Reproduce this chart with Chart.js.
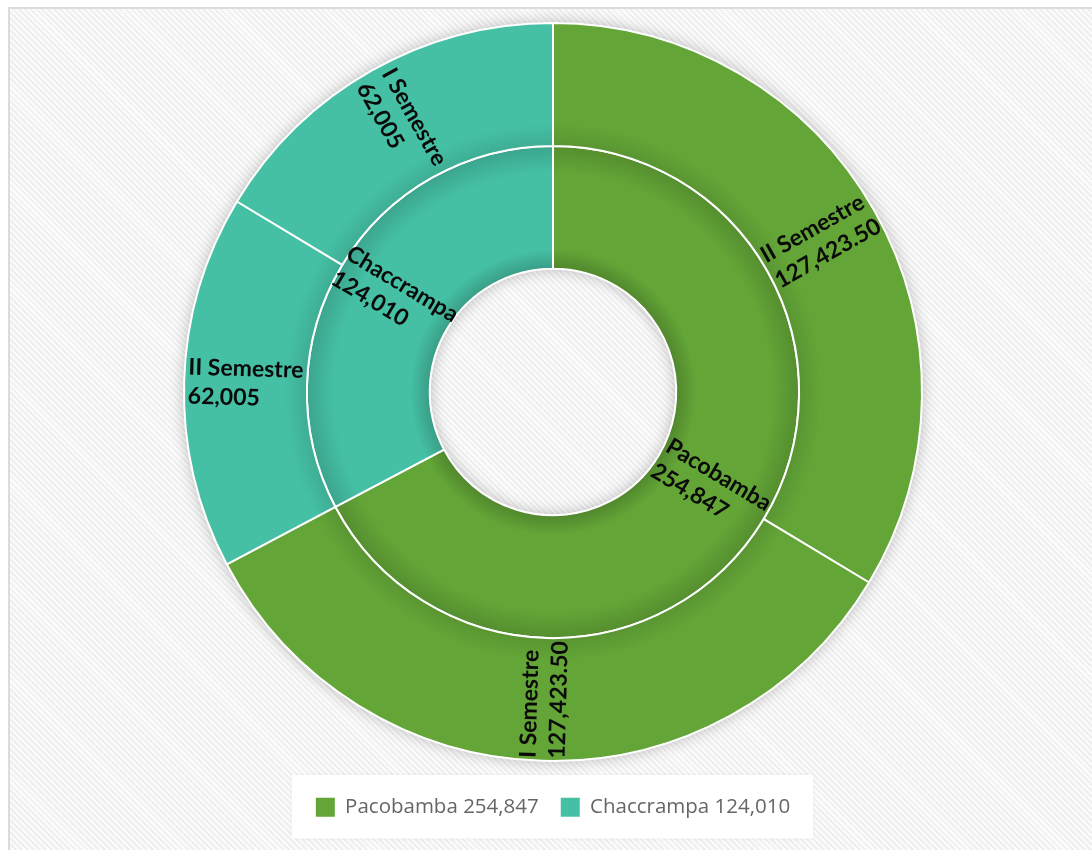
<!DOCTYPE html>
<html>
<head>
<meta charset="utf-8">
<script src="https://cdn.jsdelivr.net/npm/chart.js@4.4.1/dist/chart.umd.min.js"></script>
<style>
  html, body { margin: 0; padding: 0; background: #fff; overflow: hidden; }
  #frame {
    position: absolute; left: 8px; top: 7px; width: 1100px; height: 860px;
    border-left: 2px solid #dcdcdc; border-top: 2px solid #dcdcdc;
    background: repeating-linear-gradient(45deg, #efefef 0px, #efefef 2px, #fbfbfb 2px, #fbfbfb 4.2px);
  }
  #wrap { position: absolute; left: 0; top: 0; width: 1092px; height: 850px; }
</style>
</head>
<body>
<div id="frame"></div>
<div id="wrap"><canvas id="chart"></canvas></div>
<script>
// --- Data ---
const regions = ['Pacobamba', 'Chaccrampa'];
const regionTotals = [254847, 124010];
const semesters = ['II Semestre', 'I Semestre'];
const pacobambaSemesters = [127423.50, 127423.50];
const chaccrampaSemesters = [62005, 62005];
const regionColors = ['#63a537', '#45c0a4'];

const outerLabels = [...semesters, ...semesters];
const outerValues = [...pacobambaSemesters, ...chaccrampaSemesters];
const outerColors = [regionColors[0], regionColors[0], regionColors[1], regionColors[1]];

const CUTOUT = 0.334;

function fmt(v) {
    return Number.isInteger(v)
        ? v.toLocaleString('en-US')
        : v.toLocaleString('en-US', { minimumFractionDigits: 2, maximumFractionDigits: 2 });
}

function shade(hex, f) {
    const n = parseInt(hex.slice(1), 16);
    const r = Math.round(((n >> 16) & 255) * f);
    const g = Math.round(((n >> 8) & 255) * f);
    const b = Math.round((n & 255) * f);
    return `rgb(${r},${g},${b})`;
}

// radial shading per ring (0 = outer, 1 = inner)
function ringFill(ring, colors) {
    return (context) => {
        const chart = context.chart;
        const area = chart.chartArea;
        const base = colors[context.dataIndex];
        if (!area) return base;
        const cx = (area.left + area.right) / 2;
        const cy = (area.top + area.bottom) / 2;
        const R = (Math.min(area.width, area.height) - 2) / 2;
        const hole = R * CUTOUT;
        const t = (R - hole) / 2;
        const r0 = ring === 1 ? hole : hole + t;
        const r1 = ring === 1 ? hole + t : R;
        const g = chart.ctx.createRadialGradient(cx, cy, r0, cx, cy, r1);
        if (ring === 1) {
            g.addColorStop(0, shade(base, 0.82));
            g.addColorStop(0.16, base);
            g.addColorStop(0.78, base);
            g.addColorStop(1, shade(base, 0.86));
        } else {
            g.addColorStop(0, shade(base, 0.9));
            g.addColorStop(0.18, base);
            g.addColorStop(1, base);
        }
        return g;
    };
}

// --- Plugins ---
const ringShadow = {
    id: 'ringShadow',
    beforeDatasetsDraw(chart) {
        const outer = chart.getDatasetMeta(0).data[0];
        const inner = chart.getDatasetMeta(1).data[0];
        if (!outer || !inner) return;
        const ctx = chart.ctx;
        ctx.save();
        ctx.shadowColor = 'rgba(0,0,0,0.3)';
        ctx.shadowBlur = 16;
        ctx.fillStyle = regionColors[0];
        ctx.beginPath();
        ctx.arc(outer.x, outer.y, outer.outerRadius - 1, 0, Math.PI * 2);
        ctx.arc(outer.x, outer.y, inner.innerRadius + 1, 0, Math.PI * 2, true);
        ctx.fill();
        ctx.restore();
    }
};

const sliceLabels = {
    id: 'sliceLabels',
    afterDatasetsDraw(chart) {
        const ctx = chart.ctx;
        const lh = 29;
        ctx.save();
        ctx.font = 'bold 23px Lato';
        ctx.fillStyle = '#0a0a0a';
        ctx.textBaseline = 'middle';
        ctx.textAlign = 'left';
        chart.data.datasets.forEach((ds, di) => {
            chart.getDatasetMeta(di).data.forEach((arc, i) => {
                const p = arc.getProps(['x', 'y', 'startAngle', 'endAngle', 'innerRadius', 'outerRadius'], true);
                const mid = (p.startAngle + p.endAngle) / 2;
                const r = (p.innerRadius + p.outerRadius) / 2;
                let rot = mid;
                while (rot > Math.PI / 2) rot -= Math.PI;
                while (rot <= -Math.PI / 2) rot += Math.PI;
                const lines = [ds.sliceNames[i], fmt(ds.data[i])];
                const w = Math.max(...lines.map(s => ctx.measureText(s).width));
                ctx.save();
                ctx.translate(p.x + r * Math.cos(mid), p.y + r * Math.sin(mid));
                ctx.rotate(rot);
                lines.forEach((s, k) => {
                    ctx.fillText(s, -w / 2, (k - (lines.length - 1) / 2) * lh);
                });
                ctx.restore();
            });
        });
        ctx.restore();
    }
};

const legendBox = {
    id: 'legendBox',
    beforeDraw(chart) {
        const boxes = chart.legend && chart.legend.legendHitBoxes;
        if (!boxes || !boxes.length) return;
        const first = boxes[0];
        const last = boxes[boxes.length - 1];
        const ctx = chart.ctx;
        const x0 = first.left - 24;
        const x1 = last.left + last.width + 23;
        const y0 = first.top - 22;
        const y1 = first.top + first.height + 21;
        ctx.save();
        ctx.shadowColor = 'rgba(0,0,0,0.06)';
        ctx.shadowBlur = 4;
        ctx.fillStyle = '#ffffff';
        ctx.fillRect(x0, y0, x1 - x0, y1 - y0);
        ctx.restore();
    }
};

// --- Chart ---
const chart = new Chart(document.getElementById('chart'), {
    type: 'doughnut',
    data: {
        labels: outerLabels,
        datasets: [
            {
                data: outerValues,
                sliceNames: outerLabels,
                backgroundColor: ringFill(0, outerColors),
                borderColor: '#ffffff',
                borderWidth: 2
            },
            {
                data: regionTotals,
                sliceNames: regions,
                backgroundColor: ringFill(1, regionColors),
                borderColor: '#ffffff',
                borderWidth: 2
            }
        ]
    },
    options: {
        responsive: true,
        maintainAspectRatio: false,
        animation: false,
        cutout: (CUTOUT * 100) + '%',
        hoverOffset: 0,
        layout: { padding: { left: 14, top: 22, right: 0, bottom: 20 } },
        plugins: {
            tooltip: { enabled: false },
            legend: {
                position: 'bottom',
                onClick: null,
                title: { display: true, text: '', padding: { top: 0, bottom: 1 }, font: { size: 10 } },
                labels: {
                    boxWidth: 19,
                    boxHeight: 19,
                    padding: 22,
                    color: '#595959',
                    font: { family: 'Open Sans', size: 20.5 },
                    generateLabels: () => regions.map((r, i) => ({
                        text: r + ' ' + fmt(regionTotals[i]),
                        fillStyle: regionColors[i],
                        strokeStyle: regionColors[i],
                        lineWidth: 0,
                        hidden: false,
                        index: i
                    }))
                }
            }
        }
    },
    plugins: [legendBox, ringShadow, sliceLabels]
});

// keep the ring's bottom edge where the reference has it
const shift = chart.chartArea.bottom - 762;
if (Math.abs(shift) > 0.5) {
    chart.options.layout.padding.bottom += shift;
    chart.update('none');
}
</script>
</body>
</html>
